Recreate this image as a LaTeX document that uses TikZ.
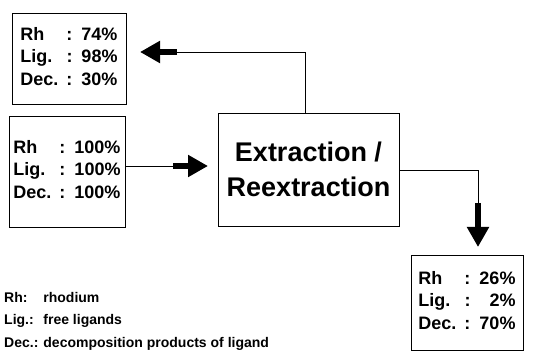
\documentclass[tikz,border=0pt]{standalone}
\usepackage{fontspec}
\setmainfont{Liberation Sans}
\usetikzlibrary{arrows.meta,positioning}

\tikzset{
  link/.style={line width=0.8pt},
  databox/.style={draw, link, inner sep=3pt, align=center,
    font=\bfseries\fontsize{18}{22.5}\selectfont},
  fatarrow/.style={line width=6pt, -{Triangle[length=20pt,width=21pt]}},
}

\newcommand{\yields}[3]{%
  \begin{tabular}{@{}l@{\hspace{8pt}}c@{\hspace{9pt}}r@{}}
    Rh & : & #1\\ Lig. & : & #2\\ Dec. & : & #3
  \end{tabular}}

\begin{document}
\begin{tikzpicture}[x=1pt, y=-1pt]
  \useasboundingbox (0,0) rectangle (535,352);

  % boxes
  \node[databox, minimum width=114pt, minimum height=91pt] (recov) at (69,58.5) {\yields{74\%}{98\%}{30\%}};
  \node[databox, minimum width=116pt, minimum height=111pt] (feed) at (67,171.5) {\yields{100\%}{100\%}{100\%}};
  \node[draw, link, minimum width=181pt, minimum height=113pt, align=center,
    font=\bfseries\fontsize{27}{35}\selectfont] (extr) at (308.5,169.5) {Extraction /\\Reextraction};
  \node[databox, minimum width=112pt, minimum height=95pt] (waste) at (467,302.5) {\yields{26\%}{2\%}{70\%}};

  % legend
  \node[anchor=base west, inner sep=0pt, font=\bfseries\fontsize{14}{22}\selectfont] (legend) at (4,347)
    {\begin{tabular}[b]{@{}l@{\hspace{5pt}}l@{}}
       Rh: & rhodium\\
       Lig.: & free ligands\\
       Dec.: & decomposition products of ligand
     \end{tabular}};

  % connector points
  \coordinate (feedmid) at (173,166);
  \coordinate (feedtip) at (208,166);
  \coordinate (topbend) at (305,52);
  \coordinate (recovmid) at (177,52);
  \coordinate (recovtip) at (140,52);
  \coordinate (rightbend) at (478,170);
  \coordinate (wastemid) at (478,203);
  \coordinate (wastetip) at (478,247);

  % connectors
  \draw[link] (feed.east |- feedmid) -- (feedmid);
  \draw[fatarrow] (feedmid) -- (feedtip);
  \draw[link] (extr.north -| topbend) -- (topbend) -- (recovmid);
  \draw[fatarrow] (recovmid) -- (recovtip);
  \draw[link] (extr.east |- rightbend) -- (rightbend) -- (wastemid);
  \draw[fatarrow] (wastemid) -- (wastetip);
\end{tikzpicture}
\end{document}
